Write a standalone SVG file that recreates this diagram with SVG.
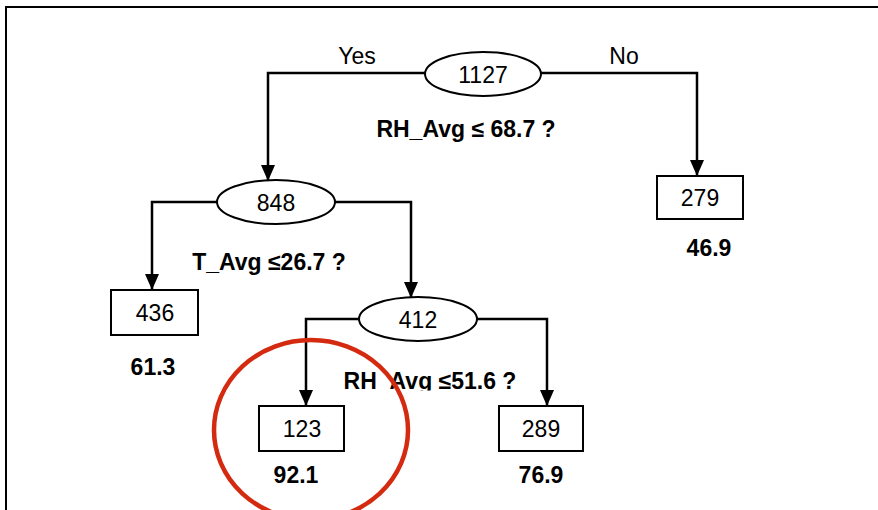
<svg xmlns="http://www.w3.org/2000/svg" width="878" height="510" viewBox="0 0 878 510">
<style>
.t{font-family:"Liberation Sans",Arial,sans-serif;font-size:23px;fill:#000;text-anchor:middle}
.b{font-weight:bold}
.n{fill:#fff;stroke:#000;stroke-width:2}
.c{fill:none;stroke:#000;stroke-width:2.5}
</style>
<defs>
<marker id="ah" viewBox="0 0 16 14" refX="16" refY="7" markerWidth="16" markerHeight="14" markerUnits="userSpaceOnUse" orient="auto">
<path d="M0,0 L16,7 L0,14 z" fill="#000"/>
</marker>
<clipPath id="clipL"><rect x="0" y="340" width="878" height="50.5"/></clipPath>
</defs>
<rect x="6" y="7" width="890" height="520" fill="#fff" stroke="#000" stroke-width="2"/>
<g id="connectors">
<path class="c" d="M425,73 H268 V181" marker-end="url(#ah)"/>
<path class="c" d="M541,73 H697 V176" marker-end="url(#ah)"/>
<path class="c" d="M217,202 H152 V290" marker-end="url(#ah)"/>
<path class="c" d="M335,202 H411 V298" marker-end="url(#ah)"/>
<path class="c" d="M359,319 H306 V406" marker-end="url(#ah)"/>
<path class="c" d="M477,319 H547 V406" marker-end="url(#ah)"/>
</g>
<text class="t" x="357" y="64">Yes</text>
<text class="t" x="624" y="64">No</text>
<g id="n1127">
<ellipse class="n" cx="483" cy="74" rx="58" ry="22"/>
<text class="t" x="483" y="83">1127</text>
<text class="t b" x="466" y="137">RH_Avg ≤ 68.7 ?</text>
</g>
<g id="n279">
<rect class="n" x="657" y="176" width="86" height="43"/>
<text class="t" x="700" y="206">279</text>
<text class="t b" x="709" y="256">46.9</text>
</g>
<g id="n848">
<ellipse class="n" cx="276" cy="202" rx="59" ry="22"/>
<text class="t" x="276" y="211">848</text>
<text class="t b" x="269" y="270">T_Avg ≤26.7 ?</text>
</g>
<g id="n436">
<rect class="n" x="111" y="290" width="87" height="45"/>
<text class="t" x="155" y="321">436</text>
<text class="t b" x="153" y="375">61.3</text>
</g>
<g id="n412">
<ellipse class="n" cx="418" cy="319" rx="59" ry="22"/>
<text class="t" x="418" y="328">412</text>
<text class="t b" x="430" y="389" clip-path="url(#clipL)">RH_Avg ≤51.6 ?</text>
</g>
<g id="n123">
<rect class="n" x="259" y="406" width="85" height="45"/>
<text class="t" x="302" y="437">123</text>
<text class="t b" x="296" y="483">92.1</text>
</g>
<g id="n289">
<rect class="n" x="499" y="406" width="84" height="45"/>
<text class="t" x="541" y="437">289</text>
<text class="t b" x="541" y="483">76.9</text>
</g>
<ellipse id="highlight" cx="311" cy="430" rx="97" ry="90" fill="none" stroke="#d42a10" stroke-width="4.5"/>
</svg>
